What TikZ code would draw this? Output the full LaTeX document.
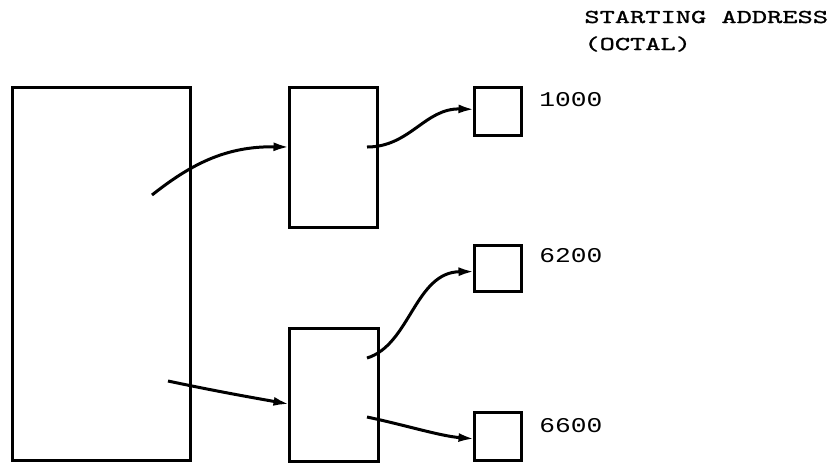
\documentclass[tikz,border=0pt]{standalone}
\usepackage{fontspec}
\usetikzlibrary{arrows.meta}
\newfontfamily\typefont[FakeStretch=1.48,FakeBold=1.2]{Latin Modern Mono}
\newfontfamily\digitfont[FakeStretch=1.25]{Liberation Mono}
\newlength{\du}
\setlength{\du}{0.5pt}

\begin{document}
\begin{tikzpicture}[
  blk/.style={draw, line width=1.5pt, inner sep=0pt, anchor=north west},
  link/.style={line width=1.5pt, shorten >=-0.75pt, -{Latex[length=8pt,width=4.5pt]}},
  hdr/.style={anchor=base west, inner sep=0pt, font=\typefont\fontsize{9.8}{12}\selectfont},
  addr/.style={anchor=base west, inner sep=0pt, font=\digitfont\fontsize{10.5}{12}\selectfont}]
\pgftransformxscale{1.000000}
\pgftransformyscale{-1.000000}
\useasboundingbox (0\du,0\du) rectangle (836\du,463\du);
% blocks
\node[blk, minimum width=178\du, minimum height=373\du] (mem) at (11\du,86\du) {};
\node[blk, minimum width=88\du, minimum height=140\du] (segA) at (288\du,86\du) {};
\node[blk, minimum width=89\du, minimum height=133\du] (segB) at (288\du,327\du) {};
\node[blk, minimum width=47\du, minimum height=48\du] (adrA) at (473\du,86\du) {};
\node[blk, minimum width=47\du, minimum height=46\du] (adrB) at (473\du,244\du) {};
\node[blk, minimum width=47\du, minimum height=48\du] (adrC) at (473\du,411\du) {};
% free ends of the links
\coordinate (memA) at (152\du,195\du);
\coordinate (memB) at (168\du,381\du);
\coordinate (segAout) at (367\du,147\du);
\coordinate (segBup) at (367\du,358\du);
\coordinate (segBdn) at (367\du,417\du);
% links
\draw[link] (memA) .. controls (190\du,165\du) and (225\du,146\du) .. (segA.167);
\draw[link] (segAout) .. controls (410\du,147\du) and (425\du,108\du) .. (adrA.175);
\draw[link] (memB) .. controls (220\du,392\du) and (255\du,398\du) .. (segB.191);
\draw[link] (segBup) .. controls (410\du,345\du) and (415\du,272\du) .. (adrB.187);
\draw[link] (segBdn) .. controls (405\du,425\du) and (440\du,436\du) .. (adrC.185);
% setfont left to latex
\node[hdr] (title) at (584\du,23\du) {STARTING ADDRESS};
\node[hdr] (unit) at (584\du,50\du) {(OCTAL)};
\node[addr] (lblA) at (539\du,106\du) {1000};
\node[addr] (lblB) at (539\du,262\du) {6200};
\node[addr] (lblC) at (539\du,432\du) {6600};
\end{tikzpicture}
\end{document}
